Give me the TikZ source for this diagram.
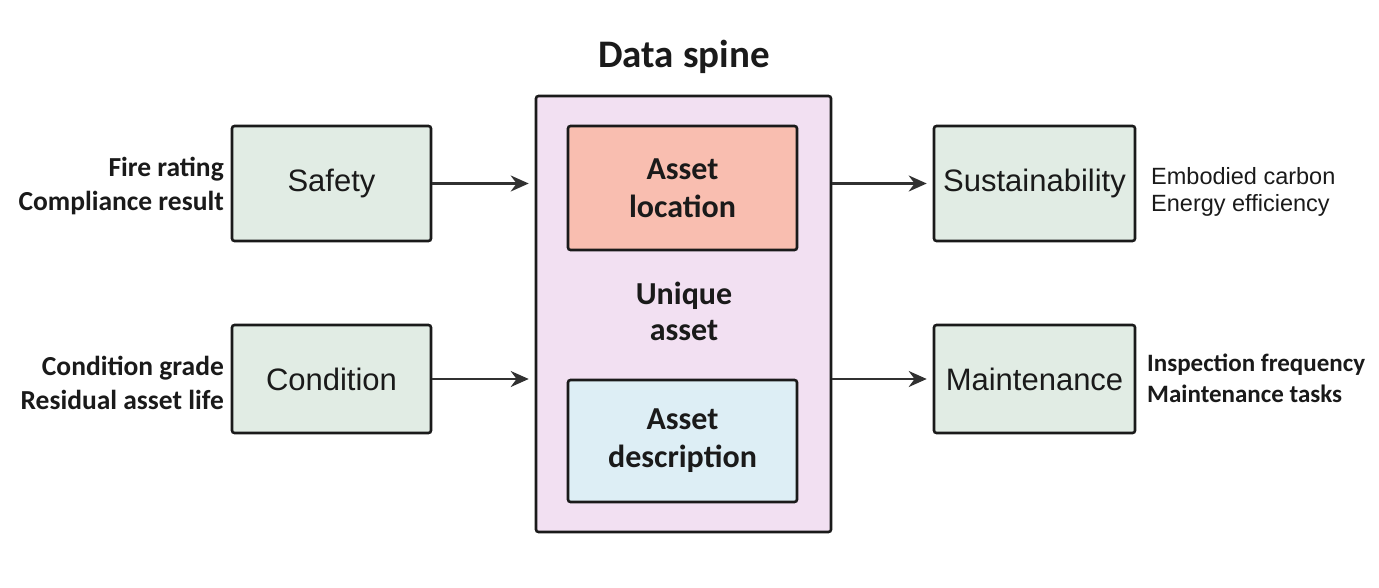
\documentclass[tikz,border=0pt]{standalone}
\usepackage{fontspec}
\setmainfont{Carlito}
\newfontfamily\boxfont{Liberation Sans}
\usetikzlibrary{arrows.meta}
\definecolor{ink}{HTML}{1A1A1A}
\definecolor{greenfill}{HTML}{E1ECE4}
\definecolor{spinefill}{HTML}{F2E0F2}
\definecolor{salmon}{HTML}{F9BEB0}
\definecolor{bluefill}{HTML}{DDEEF5}
\tikzset{
  outerbox/.style={draw=ink, line width=2.6pt, rounded corners=2.5pt, fill=greenfill, inner sep=0pt, font=\boxfont\fontsize{31}{36}\selectfont, text=ink},
  innerbox/.style={draw=ink, line width=2.6pt, rounded corners=2.5pt, inner sep=0pt, align=center, font=\bfseries\fontsize{32}{38}\selectfont, text=ink},
  lbl/.style={inner sep=0pt, font=\bfseries\fontsize{27.5}{34}\selectfont, text=ink},
  arr/.style={draw=ink!90, line width=2.2pt, -{Stealth[length=18pt,width=16pt]}}
}
\begin{document}
\begin{tikzpicture}[x=1pt,y=-1pt]
\useasboundingbox (0,0) rectangle (1379,588);
\fill[white] (0,0) rectangle (1379,588);
% title
\node[font=\bfseries\fontsize{39}{44}\selectfont, text=ink] (title) at (684,57) {Data spine};
% spine
\node[draw=ink, line width=2.6pt, rounded corners=2.5pt, fill=spinefill, minimum width=295pt, minimum height=436pt, inner sep=0pt] (spine) at (683.5,314) {};
\node[innerbox, fill=salmon, minimum width=229pt, minimum height=124pt] (loc) at (682.5,188) {Asset\\location};
\node[innerbox, fill=bluefill, minimum width=229pt, minimum height=122pt] (desc) at (682.5,441) {Asset\\description};
\node[lbl, align=center, font=\bfseries\fontsize{32}{36}\selectfont] (uniq) at (684,311) {Unique\\asset};
% left boxes
\node[outerbox, minimum width=199pt, minimum height=115pt] (safety) at (331.5,183.5) {Safety};
\node[outerbox, minimum width=199pt, minimum height=108pt] (cond) at (331.5,379) {Condition};
% right boxes
\node[outerbox, minimum width=201pt, minimum height=115pt] (sust) at (1034.5,183.5) {Sustainability};
\node[outerbox, minimum width=201pt, minimum height=108pt] (maint) at (1034.5,379) {Maintenance};
% labels
\node[lbl, align=right, anchor=east] (safetyl) at (224,186) {Fire rating\\Compliance result};
\node[lbl, align=right, anchor=east] (condl) at (224,383) {Condition grade\\Residual asset life};
\node[inner sep=0pt, align=left, anchor=west, font=\boxfont\fontsize{23.5}{27}\selectfont, text=ink] (sustl) at (1151,192) {Embodied carbon\\Energy efficiency};
\node[lbl, align=left, anchor=west, font=\bfseries\fontsize{25}{31}\selectfont] (maintl) at (1147,378) {Inspection frequency\\Maintenance tasks};
% arrows
\draw[arr] (safety.east) -- ([xshift=-6pt]spine.west |- safety.east);
\draw[arr] (cond.east) -- ([xshift=-6pt]spine.west |- cond.east);
\draw[arr] (spine.east |- sust.west) -- ([xshift=-6pt]sust.west);
\draw[arr] (spine.east |- maint.west) -- ([xshift=-6pt]maint.west);
\end{tikzpicture}
\end{document}
